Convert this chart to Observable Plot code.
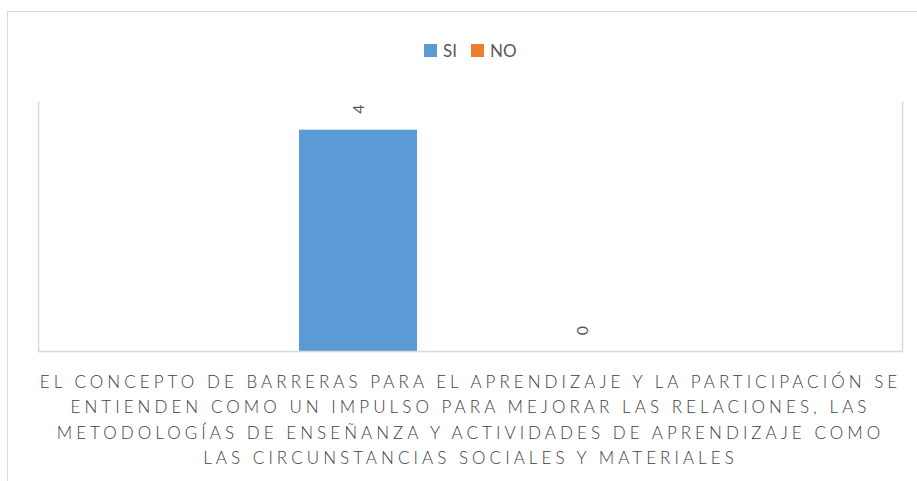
<!DOCTYPE html>
<html><head><meta charset="utf-8">
<script src="https://cdn.jsdelivr.net/npm/d3@7"></script>
<script src="https://cdn.jsdelivr.net/npm/@observablehq/plot@0.6"></script>
<style>
html,body{margin:0;padding:0;background:#fff;overflow:hidden;width:917px;height:481px;}
#border{position:absolute;left:7px;top:11px;width:1000px;height:600px;border:1.5px solid #d9d9d9;box-sizing:border-box;}
#legend{position:absolute;left:424px;top:40px;height:20px;display:flex;align-items:center;font:17px Lato, sans-serif;color:#595959;}
#legend .item{display:flex;align-items:center;margin-right:14px;}
#legend .sw{width:13px;height:13px;display:inline-block;margin-right:6px;}
#chart{position:absolute;left:0;top:70px;}
#chart g[aria-label="fx-axis tick label"] text{letter-spacing:4.05px;font-weight:300;}
</style></head>
<body>
<div id="border"></div>
<div id="legend"></div>
<div id="chart"></div>
<script>
const categories = ["EL CONCEPTO DE BARRERAS PARA EL APRENDIZAJE Y LA PARTICIPACIÓN SE\nENTIENDEN COMO UN IMPULSO PARA MEJORAR LAS RELACIONES, LAS\nMETODOLOGÍAS DE ENSEÑANZA Y ACTIVIDADES DE APRENDIZAJE COMO\nLAS CIRCUNSTANCIAS SOCIALES Y MATERIALES"];
const series = ["SI", "NO"];
const siValues = [4];
const noValues = [0];
const colors = ["#5B9BD5", "#ED7D31"];
const yMax = 4.5;

const data = [];
categories.forEach((c, i) => {
  data.push({category: c, series: "SI", value: siValues[i]});
  data.push({category: c, series: "NO", value: noValues[i]});
});

const legend = document.getElementById("legend");
series.forEach((s, i) => {
  const item = document.createElement("span");
  item.className = "item";
  const sw = document.createElement("span");
  sw.className = "sw";
  sw.style.background = colors[i];
  item.appendChild(sw);
  item.appendChild(document.createTextNode(s));
  legend.appendChild(item);
});

const gray = "#d9d9d9";
const plot = Plot.plot({
  width: 917,
  height: 411,
  marginLeft: 38,
  marginRight: 15,
  marginTop: 32,
  marginBottom: 130,
  style: {fontFamily: "Lato, sans-serif", fontSize: "16px", color: "#595959", background: "transparent"},
  fx: {domain: categories, padding: 0, label: null, axis: null},
  x: {domain: series, paddingInner: 0.473, paddingOuter: 1.165, axis: null},
  y: {domain: [0, yMax], axis: null},
  color: {domain: series, range: colors},
  marks: [
    Plot.barY(data, {fx: "category", x: "series", y: "value", fill: "series"}),
    Plot.text(data, {fx: "category", x: "series", y: "value", text: d => String(d.value), rotate: -90, dy: -21, fill: "#595959", fontSize: 16}),
    Plot.frame({anchor: "left", stroke: gray, strokeWidth: 1.5}),
    Plot.frame({anchor: "right", stroke: gray, strokeWidth: 1.5}),
    Plot.ruleY([0], {stroke: gray, strokeWidth: 1.5}),
    Plot.axisFx({anchor: "bottom", tickSize: 0, tickPadding: 18, label: null, lineHeight: 1.5, fontSize: 17, fill: "#404040"})
  ]
});
document.getElementById("chart").appendChild(plot);
</script>
</body></html>
